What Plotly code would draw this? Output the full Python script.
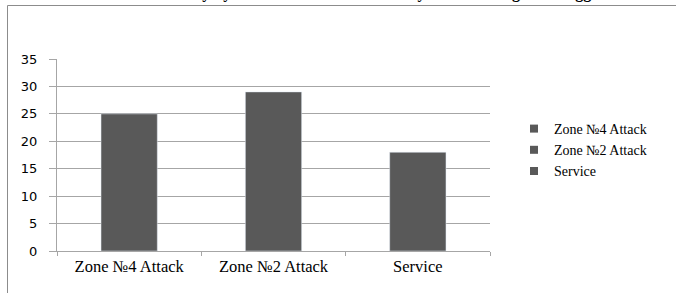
import plotly.graph_objects as go

categories = ["Zone №4 Attack", "Zone №2 Attack", "Service"]
values = [25, 29, 18]
y_ticks = [0, 5, 10, 15, 20, 25, 30, 35]
title_text = "Index of efficiency by technical-tactical attacks by zones of range of attagg"

bar_color = "#595959"
grid_color = "#a6a6a6"

fig = go.Figure()
for cat, val in zip(categories, values):
    fig.add_trace(go.Bar(x=[cat], y=[val], name=cat, marker_color=bar_color,
                         width=0.39, showlegend=False))
    fig.add_trace(go.Scatter(x=[None], y=[None], mode="markers", name=cat,
                             marker=dict(symbol="square", size=8, color=bar_color)))

W, H = 676, 293
l, t = 57, 59
pw, ph = 433, 192
r, b = W - l - pw, H - t - ph

def px_x(x):
    return (x - l) / pw

def px_y(y):
    return (H - b - y) / ph

fig.update_layout(
    width=W, height=H,
    margin=dict(l=l, r=r, t=t, b=b),
    paper_bgcolor="white", plot_bgcolor="white",
    barmode="overlay",
    xaxis=dict(categoryorder="array", categoryarray=categories,
               showline=True, linecolor=grid_color, linewidth=1,
               ticks="outside", ticklen=4, tickcolor=grid_color,
               tickson="boundaries", showgrid=False,
               tickfont=dict(family="Liberation Serif", size=16.5, color="black")),
    yaxis=dict(range=[0, 35], tickvals=y_ticks, showline=True, linecolor=grid_color,
               linewidth=1, ticks="outside", ticklen=7, tickcolor=grid_color,
               ticklabelstandoff=9,
               showgrid=True, gridcolor=grid_color, gridwidth=1, zeroline=False,
               tickfont=dict(family="DejaVu Sans", size=13, color="black")),
    legend=dict(x=px_x(514), xanchor="left", y=px_y(113), yanchor="top",
                font=dict(family="Liberation Serif", size=14, color="black"),
                bgcolor="rgba(0,0,0,0)", itemwidth=30),
    shapes=[dict(type="rect", xref="paper", yref="paper",
                 x0=px_x(7.5), x1=px_x(700), y0=px_y(320), y1=px_y(5.5),
                 line=dict(color="#8c8c8c", width=1), fillcolor="rgba(0,0,0,0)",
                 layer="below")],
    annotations=[dict(text="<b>" + title_text + "</b>", xref="paper", yref="paper",
                      x=px_x(338), y=px_y(4.5), xanchor="center", yanchor="bottom",
                      showarrow=False,
                      font=dict(family="Liberation Serif", size=16, color="black"))],
)

fig.write_html("out.html", config={"displayModeBar": False},
               post_script="document.body.style.margin='0';")
